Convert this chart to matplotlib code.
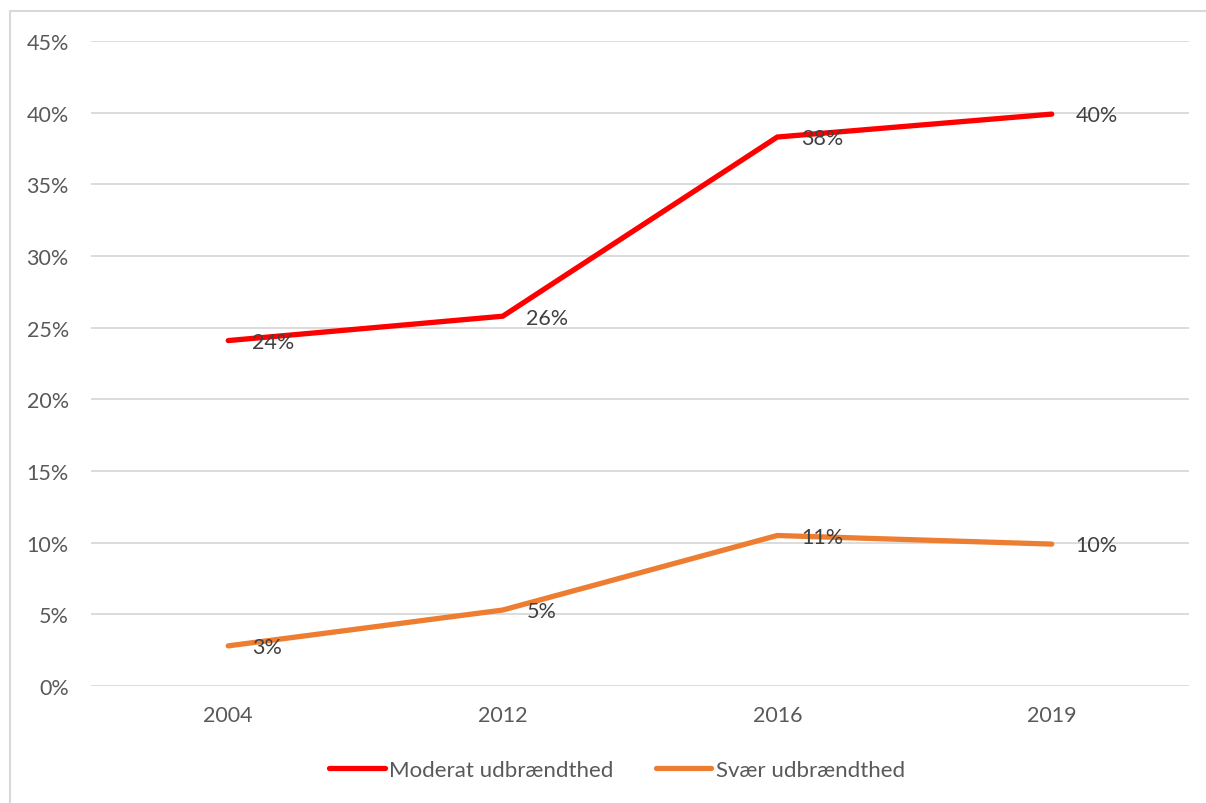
import matplotlib
matplotlib.use("Agg")
import matplotlib.pyplot as plt
from matplotlib.patches import Rectangle
from matplotlib.ticker import FuncFormatter

years = ["2004", "2012", "2016", "2019"]
moderat = [24.1, 25.8, 38.3, 39.9]
svaer = [2.8, 5.3, 10.5, 9.9]
moderat_labels = ["24%", "26%", "38%", "40%"]
svaer_labels = ["3%", "5%", "11%", "10%"]
series_names = ["Moderat udbrændthed", "Svær udbrændthed"]

plt.rcParams['font.family'] = ['Lato', 'DejaVu Sans']

fig = plt.figure(figsize=(12.06, 8.04), dpi=100)
fig.patches.append(Rectangle((10/1206, -0.01), 1.02, 1 - 12/804 + 0.01,
                             transform=fig.transFigure, fill=False,
                             edgecolor='#D9D9D9', linewidth=1.5))
ax = fig.add_axes([91/1206, 1 - 687/804, (1189 - 91)/1206, (687 - 42)/804])

x = list(range(len(years)))
l1, = ax.plot(x, moderat, color='#FF0000', linewidth=3.8, solid_capstyle='round',
              solid_joinstyle='miter', label=series_names[0], zorder=3)
l2, = ax.plot(x, svaer, color='#ED7D31', linewidth=3.8, solid_capstyle='round',
              solid_joinstyle='miter', label=series_names[1], zorder=3)

for xi, v, t in zip(x, moderat, moderat_labels):
    ax.annotate(t, (xi, v), xytext=(17, -1), textcoords='offset points',
                ha='left', va='center', fontsize=15.5, color='#404040', zorder=4)
for xi, v, t in zip(x, svaer, svaer_labels):
    ax.annotate(t, (xi, v), xytext=(17, -1), textcoords='offset points',
                ha='left', va='center', fontsize=15.5, color='#404040', zorder=4)

ax.set_xlim(-0.5, 3.5)
ax.set_ylim(0, 45)
ax.set_yticks(range(0, 46, 5))
ax.yaxis.set_major_formatter(FuncFormatter(lambda v, p: f"{int(v)}%"))
ax.set_xticks(x)
ax.set_xticklabels(years)
ax.grid(axis='y', color='#D9D9D9', linewidth=1.3)
ax.set_axisbelow(True)
for s in ax.spines.values():
    s.set_visible(False)
ax.tick_params(axis='both', length=0, labelsize=15.5, labelcolor='#595959')
ax.tick_params(axis='y', pad=16)
ax.tick_params(axis='x', pad=14)

leg = fig.legend(handles=[l1, l2], loc='center left', bbox_to_anchor=(329/1206, 1 - 771/804),
                 ncol=2, frameon=False, fontsize=16, handlelength=2.5,
                 handletextpad=0.2, columnspacing=1.9, borderpad=0, borderaxespad=0)
for t in leg.get_texts():
    t.set_color('#595959')

fig.savefig("out.png", dpi=100)
